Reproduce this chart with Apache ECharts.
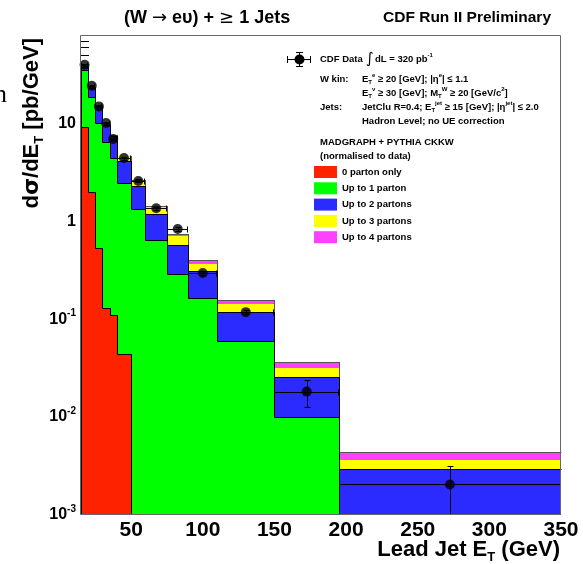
<!DOCTYPE html>
<html><head><meta charset="utf-8">
<script src="https://cdn.jsdelivr.net/npm/echarts@6/dist/echarts.min.js"></script>
<style>html,body{margin:0;padding:0;background:#fff}#c{width:583px;height:564px}</style>
</head><body><div id="c"></div>
<script>
// ---- data ----
const binEdges   = [15, 20, 25, 30, 35, 40, 50, 60, 75, 90, 110, 150, 195, 350];
const zeroParton = [9.2, 2.0, 0.53, 0.13, 0.111, 0.044, 0, 0, 0, 0, 0, 0, 0];
const upTo1      = [34.7, 18.4, 10.2, 6.38, 4.42, 2.45, 1.34, 0.647, 0.289, 0.164, 0.0602, 0.00992, 0];
const upTo2      = [37.8, 23.1, 14.7, 9.67, 7.34, 4.08, 2.27, 1.18, 0.575, 0.312, 0.117, 0.0257, 0.00297];
const upTo3      = [38.2, 23.4, 14.9, 9.8, 7.45, 4.59, 2.55, 1.40, 0.700, 0.366, 0.143, 0.0319, 0.00367];
const upTo4      = [38.5, 23.6, 15.0, 9.9, 7.55, 4.67, 2.62, 1.44, 0.740, 0.398, 0.157, 0.0365, 0.00436];
const dataVals   = [39.6, 24.2, 14.9, 10.1, 6.91, 4.42, 2.58, 1.36, 0.832, 0.296, 0.118, 0.0182, 0.00205];
const dataErr    = [0.8, 0.5, 0.35, 0.25, 0.2, 0.15, 0.09, 0.05, 0.035, 0.015, 0.006, 0.0056, 0.00114];
const xTickLabels = [50, 100, 150, 200, 250, 300, 350];
const yTickDecades = [-3, -2, -1, 0, 1];
const seriesNames = ['0 parton only', 'Up to 1 parton', 'Up to 2 partons', 'Up to 3 partons', 'Up to 4 partons'];

// ---- layout / style ----
const F = '"Liberation Sans", Arial, Helvetica, sans-serif';
const GL = 81, GT = 36, GW = 480, GH = 479;
const colors = {red:'#ff2200', green:'#00ff00', blue:'#2b2bff', yellow:'#ffff00', magenta:'#ff40ff'};

const chart = echarts.init(document.getElementById('c'), null, {renderer:'canvas'});

function histSeries(name, vals, color, lineColor, z) {
  const data = vals.map((v, i) => [binEdges[i], binEdges[i + 1], v, i === 0 ? 0 : vals[i - 1]]);
  return {
    type: 'custom', name, z, itemStyle: {color}, data,
    encode: {x: [0, 1]},
    renderItem: (params, api) => {
      const cs = params.coordSys;
      const bottom = cs.y + cs.height;
      const lo = api.value(0), hi = api.value(1), v = api.value(2), pv = api.value(3);
      const yOf = val => val > 0 ? Math.min(Math.round(api.coord([lo, val])[1]), bottom) : bottom;
      const x0 = Math.round(api.coord([lo, 1])[0]), x1 = Math.round(api.coord([hi, 1])[0]);
      const y = yOf(v), py = yOf(pv);
      const ch = [];
      if (v > 0) ch.push({type:'rect', shape:{x:x0, y:y, width:x1 - x0, height:bottom - y}, style:{fill:color}});
      if (lineColor) {
        const pts = v > 0 ? [[x0 + 0.5, py], [x0 + 0.5, y + 0.5], [x1 + 0.5, y + 0.5]] : [[x0 + 0.5, py], [x0 + 0.5, y]];
        ch.push({type:'polyline', shape:{points:pts}, style:{stroke:lineColor, lineWidth:1, fill:null}});
      }
      return {type:'group', children:ch};
    }
  };
}

// y-axis ROOT-style tick marks (drawn under the histograms)
const tickData = [];
yTickDecades.forEach(k => { for (let m = 1; m <= 9; m++) tickData.push([binEdges[0], m * Math.pow(10, k), m === 1 ? 1 : 0]); });
const tickSeries = {
  type:'custom', name:'ticks', z:1, data:tickData, silent:true, encode:{x:0},
  renderItem: (params, api) => {
    const cs = params.coordSys;
    const y = Math.round(api.coord([api.value(0), api.value(1)])[1]) + 0.5;
    if (y < cs.y || y > cs.y + cs.height) return {type:'group', children:[]};
    const len = api.value(2) ? 15 : 8;
    return {type:'line', shape:{x1:cs.x, y1:y, x2:cs.x + len, y2:y}, style:{stroke:'#000', lineWidth:1}};
  }
};

// data error bars
const errData = dataVals.map((v, i) => [binEdges[i], binEdges[i + 1], v, dataErr[i]]);
const errSeries = {
  type:'custom', name:'err', z:9, data:errData, silent:true, encode:{x:[0, 1]},
  renderItem: (params, api) => {
    const cs = params.coordSys;
    const bottom = cs.y + cs.height;
    const lo = api.value(0), hi = api.value(1), v = api.value(2), e = api.value(3);
    const xc = Math.round(api.coord([(lo + hi) / 2, v])[0]) + 0.5;
    const x0 = Math.round(api.coord([lo, v])[0]) + 0.5, x1 = Math.round(api.coord([hi, v])[0]) - 0.5;
    const y = Math.round(api.coord([lo, v])[1]) + 0.5;
    const yTop = Math.round(api.coord([lo, v + e])[1]) + 0.5;
    const lowV = v - e;
    let yBot = lowV > 0 ? Math.round(api.coord([lo, lowV])[1]) + 0.5 : bottom;
    const botClip = yBot >= bottom;
    if (botClip) yBot = bottom;
    const st = {stroke:'#000', lineWidth:1};
    const ch = [
      {type:'line', shape:{x1:x0, y1:y, x2:x1, y2:y}, style:st},
      {type:'line', shape:{x1:x0, y1:y - 3, x2:x0, y2:y + 3}, style:st},
      {type:'line', shape:{x1:x1, y1:y - 3, x2:x1, y2:y + 3}, style:st},
      {type:'line', shape:{x1:xc, y1:yTop, x2:xc, y2:yBot}, style:st},
      {type:'line', shape:{x1:xc - 3, y1:yTop, x2:xc + 3, y2:yTop}, style:st}
    ];
    if (!botClip) ch.push({type:'line', shape:{x1:xc - 3, y1:yBot, x2:xc + 3, y2:yBot}, style:st});
    return {type:'group', children:ch};
  }
};

const scatterData = dataVals.map((v, i) => [(binEdges[i] + binEdges[i + 1]) / 2, v]);

const richInfo = {
  n: {fontSize:9.5, fontWeight:'bold', fontFamily:F, color:'#000', lineHeight:13},
  u: {fontSize:6, fontWeight:'bold', fontFamily:F, color:'#000', lineHeight:6, verticalAlign:'top'},
  d: {fontSize:6, fontWeight:'bold', fontFamily:F, color:'#000', lineHeight:6, verticalAlign:'bottom'},
  i: {fontSize:15, fontFamily:'"DejaVu Sans", sans-serif', color:'#000', lineHeight:16}
};
function info(x, y, text) {
  return {type:'text', x, y, z:50, style:{text, rich:richInfo, align:'left', verticalAlign:'middle'}};
}

const richTitle = {
  t: {fontSize:18, fontWeight:'bold', fontFamily:F, color:'#000', lineHeight:22},
  a: {fontSize:18, fontWeight:'normal', fontFamily:'"DejaVu Sans", sans-serif', color:'#000', lineHeight:22}
};
const richAxis = {
  a: {fontSize:22, fontWeight:'bold', fontFamily:F, color:'#000', lineHeight:28},
  b: {fontSize:13, fontWeight:'bold', fontFamily:F, color:'#000', lineHeight:14, verticalAlign:'bottom'},
  g: {fontSize:22, fontWeight:'bold', fontFamily:'"DejaVu Sans", sans-serif', color:'#000', lineHeight:28}
};

const graphics = [
  {type:'text', x:-6, y:95, z:50, style:{text:'n', font:'26px "Liberation Serif", serif', fill:'#000', verticalAlign:'middle'}},
  {type:'text', x:124, y:18, z:50, style:{text:'{t|(W }{a|→}{t| eυ) + }{a|≥}{t| 1 Jets}', rich:richTitle, align:'left', verticalAlign:'middle'}},
  {type:'text', x:551, y:18, z:50, style:{text:'CDF Run II Preliminary', font:'bold 15.5px ' + F, fill:'#000', align:'right', verticalAlign:'middle'}},
  {type:'text', x:32, y:38, z:50, rotation:Math.PI / 2, style:{text:'{a|d}{g|σ}{a|/dE}{b|T}{a| [pb/GeV]}', rich:richAxis, align:'right', verticalAlign:'middle'}},
  {type:'text', x:560, y:550, z:50, style:{text:'{a|Lead Jet E}{b|T}{a| (GeV)}', rich:richAxis, align:'right', verticalAlign:'middle'}},
  // data legend marker
  {type:'group', z:50, children:[
    {type:'line', shape:{x1:287, y1:59.5, x2:311, y2:59.5}, style:{stroke:'#000', lineWidth:1}},
    {type:'line', shape:{x1:287.5, y1:56, x2:287.5, y2:63}, style:{stroke:'#000', lineWidth:1}},
    {type:'line', shape:{x1:310.5, y1:56, x2:310.5, y2:63}, style:{stroke:'#000', lineWidth:1}},
    {type:'line', shape:{x1:299.5, y1:52, x2:299.5, y2:67}, style:{stroke:'#000', lineWidth:1}},
    {type:'line', shape:{x1:296, y1:52.5, x2:303, y2:52.5}, style:{stroke:'#000', lineWidth:1}},
    {type:'line', shape:{x1:296, y1:66.5, x2:303, y2:66.5}, style:{stroke:'#000', lineWidth:1}},
    {type:'circle', shape:{cx:299.5, cy:59.5, r:5}, style:{fill:'#000'}}
  ]},
  info(320, 59, '{n|CDF Data }'),
  info(366, 59, '{i|∫}'),
  info(375, 59, '{n|dL = 320 pb}{u|-1}'),
  info(320, 79, '{n|W kin:}'),
  info(362, 79, '{n|E}{d|T}{u|e}{n| ≥ 20 [GeV]; |η}{u|e}{n|| ≤ 1.1}'),
  info(362, 93, '{n|E}{d|T}{u|ν}{n| ≥ 30 [GeV]; M}{d|T}{u|W}{n| ≥ 20 [GeV/c}{u|2}{n|]}'),
  info(320, 107, '{n|Jets:}'),
  info(362, 107, '{n|JetClu R=0.4; E}{d|T}{u|jet}{n| ≥ 15 [GeV]; |η}{u|jet}{n|| ≤ 2.0}'),
  info(362, 121.5, '{n|Hadron Level; no UE correction}'),
  info(320, 142.5, '{n|MADGRAPH + PYTHIA CKKW}'),
  info(320, 156.5, '{n|(normalised to data)}'),
  // frame
  {type:'rect', z:100, silent:true, shape:{x:GL - 0.5, y:GT - 0.5, width:GW, height:GH}, style:{fill:null, stroke:'#666', lineWidth:1}}
];

const option = {
  animation:false,
  backgroundColor:'#fff',
  grid:{left:GL, top:GT, width:GW, height:GH, outerBoundsMode:'none', containLabel:false},
  xAxis:{
    type:'value', min:binEdges[0], max:binEdges[binEdges.length - 1],
    axisLine:{show:false}, axisTick:{show:false}, splitLine:{show:false},
    axisLabel:{customValues:xTickLabels, fontSize:21, fontWeight:'bold', fontFamily:F, color:'#000', margin:5, showMinLabel:true, showMaxLabel:true}
  },
  yAxis:{
    type:'log', logBase:10, min:0.001, max:78,
    axisLine:{show:false}, axisTick:{show:false}, splitLine:{show:false},
    axisLabel:{
      showMaxLabel:false, margin:5, color:'#000',
      formatter: v => {
        const e = Math.round(Math.log10(v));
        if (e === 0) return '{b|1}';
        if (e === 1) return '{b|10}';
        return '{b|10}{s|' + e + '}';
      },
      rich:{
        b:{fontSize:16, fontWeight:'bold', fontFamily:F, color:'#000', lineHeight:22},
        s:{fontSize:10, fontWeight:'bold', fontFamily:F, color:'#000', lineHeight:10, verticalAlign:'top'}
      }
    }
  },
  legend:{
    data:seriesNames, orient:'vertical', left:314, top:166, padding:0,
    itemWidth:23, itemHeight:12, itemGap:4.3, icon:'rect', selectedMode:false,
    textStyle:{fontSize:9.5, fontWeight:'bold', fontFamily:F, color:'#000'}
  },
  series:[
    tickSeries,
    histSeries(seriesNames[4], upTo4, colors.magenta, '#555', 2),
    histSeries(seriesNames[3], upTo3, colors.yellow, null, 3),
    histSeries(seriesNames[2], upTo2, colors.blue, '#000', 4),
    histSeries(seriesNames[1], upTo1, colors.green, '#000', 5),
    histSeries(seriesNames[0], zeroParton, colors.red, '#000', 6),
    errSeries,
    {type:'scatter', name:'CDF Data', z:10, data:scatterData, symbol:'circle', symbolSize:10, itemStyle:{color:'#000'}, silent:true}
  ],
  graphic:graphics
};
chart.setOption(option);
</script></body></html>
